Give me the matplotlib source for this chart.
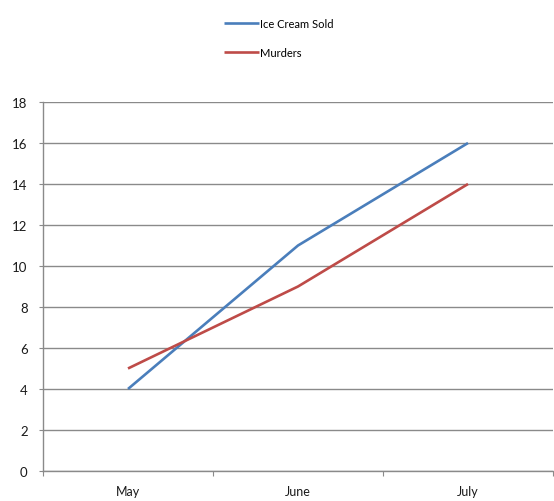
import matplotlib.pyplot as plt
import numpy as np

months = ["May", "June", "July"]
ice_cream = [4, 11, 16]
murders = [5, 9, 14]
yticks = list(range(0, 20, 2))

plt.rcParams['font.family'] = ['Lato', 'DejaVu Sans']

fig = plt.figure(figsize=(5.54, 5.02), dpi=100)
ax = fig.add_axes([0.0776, 0.0598, 0.9206, 0.735])

x = np.arange(len(months)) + 0.5
ax.plot(x, ice_cream, color='#4A7EBB', lw=1.9, label='Ice Cream Sold', solid_capstyle='butt')
ax.plot(x, murders, color='#BE4B48', lw=1.9, label='Murders', solid_capstyle='butt')

ax.set_xlim(0, len(months))
ax.set_ylim(0, 18)
ax.set_yticks(yticks)
ax.set_xticks(np.arange(len(months) + 1))
ax.set_xticklabels([])
ax.set_xticks(x, minor=True)
ax.set_xticklabels(months, minor=True)

gray = '#8a8a8a'
ax.grid(axis='y', color=gray, lw=1.0)
ax.set_axisbelow(True)
for s in ['top', 'right']:
    ax.spines[s].set_visible(False)
for s in ['left', 'bottom']:
    ax.spines[s].set_color(gray)
    ax.spines[s].set_linewidth(1.0)

ax.tick_params(axis='y', direction='out', length=3, color=gray, pad=8, labelsize=9.5, labelcolor='#1a1a1a')
ax.tick_params(axis='x', which='major', direction='out', length=3.5, color=gray)
ax.tick_params(axis='x', which='minor', length=0, pad=10, labelsize=9, labelcolor='#1a1a1a')

fig.legend(loc='upper left', bbox_to_anchor=(0.405, 0.962), frameon=False,
           fontsize=8, handlelength=3.1, handletextpad=0.1, labelspacing=1.6,
           borderpad=0, borderaxespad=0)

fig.savefig('out.png', dpi=100)
